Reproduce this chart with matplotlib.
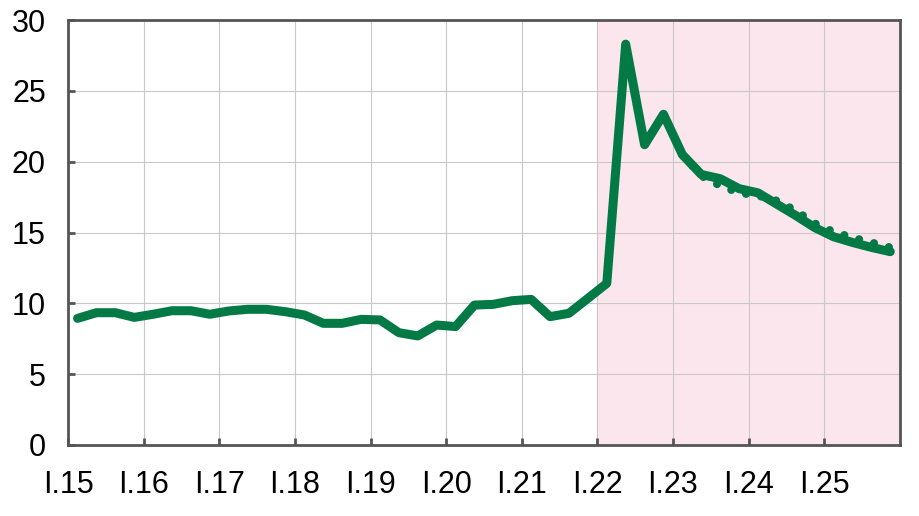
import matplotlib.pyplot as plt
import matplotlib.transforms as mtransforms
import numpy as np

plt.rcParams['font.family'] = ['Liberation Sans', 'DejaVu Sans']

# quarterly values, Q1 2015 .. Q4 2025
actual = [8.94, 9.34, 9.34, 9.01, 9.23, 9.48, 9.48, 9.23, 9.46, 9.58, 9.58, 9.41,
          9.18, 8.59, 8.59, 8.87, 8.83, 7.93, 7.70, 8.47, 8.36, 9.88, 9.93, 10.19,
          10.28, 9.06, 9.30, 10.35, 11.41, 28.3, 21.2, 23.35, 20.5, 19.1, 18.8, 18.1,
          17.8, 17.0, 16.2, 15.35, 14.7, 14.3, 13.95, 13.65]
# previous projection, Q1 2023 .. Q4 2025
previous = [20.5, 19.0, 18.3, 17.8, 17.6, 17.25, 16.55, 15.65, 15.05, 14.65, 14.3, 13.95]
years = ['I.15', 'I.16', 'I.17', 'I.18', 'I.19', 'I.20', 'I.21', 'I.22', 'I.23', 'I.24', 'I.25']
forecast_start = 28

x_act = np.arange(len(actual)) + 0.5
x_prev = np.arange(len(actual) - len(previous), len(actual)) + 0.5

fig = plt.figure(figsize=(9.2, 5.16), dpi=100)
ax = fig.add_axes([0.074, 0.1376, 0.904, 0.8235])

green = '#037A45'
ax.axvspan(forecast_start, 4 * len(years), color='#FCE6EE', zorder=0, lw=0)
ax.plot(x_prev, previous, color=green, lw=5.8, ls=(0, (0.01, 1.9)),
        dash_capstyle='round', zorder=3)
ax.plot(x_act, actual, color=green, lw=6.5, solid_capstyle='round',
        solid_joinstyle='round', zorder=4)

ax.set_xlim(0, 4 * len(years))
ax.set_ylim(0, 30)
ax.set_yticks(np.arange(0, 31, 5))
ax.set_xticks(np.arange(len(years)) * 4)
ax.set_xticklabels(years)
offset = mtransforms.ScaledTranslation(9 / 100, 0, fig.dpi_scale_trans)
for lab in ax.get_xticklabels():
    lab.set_transform(lab.get_transform() + offset)

ax.grid(True, color='#C8C8C8', lw=0.8, zorder=1)
ax.set_axisbelow(True)
for s in ax.spines.values():
    s.set_color('#555555')
    s.set_linewidth(2)
ax.tick_params(direction='in', length=5, width=2, color='#555555', labelsize=22)
ax.tick_params(axis='x', pad=18)
ax.tick_params(axis='y', pad=16)

fig.savefig('out.png', dpi=100)
